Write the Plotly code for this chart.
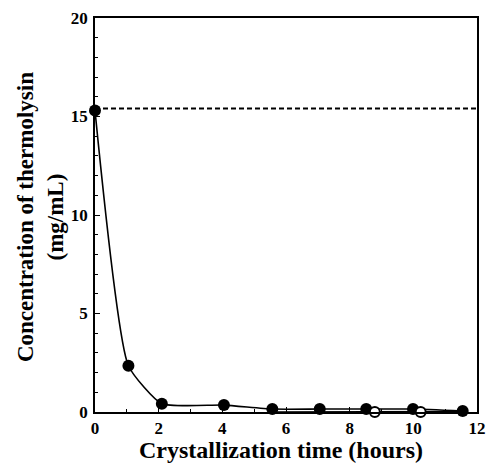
import plotly.graph_objects as go

# Thermolysin remaining in solution during crystallization
time_filled = [0.0, 1.05, 2.1, 4.05, 5.57, 7.06, 8.52, 9.99, 11.55]
conc_filled = [15.3, 2.35, 0.42, 0.35, 0.15, 0.15, 0.15, 0.15, 0.05]

time_open = [5.57, 7.06, 8.79, 10.23, 11.55]
conc_open = [0.0, 0.0, 0.0, 0.0, 0.02]
# open circles that are not hidden under a filled circle
open_visible = [0, 0, 1, 1, 0]

initial_conc = 15.4
x_ticks = [0, 2, 4, 6, 8, 10, 12]
y_ticks = [0, 5, 10, 15, 20]

serif = "Liberation Serif, Times New Roman, serif"

fig = go.Figure()

fig.add_trace(go.Scatter(
    x=[0, 12], y=[initial_conc, initial_conc], mode="lines",
    line=dict(color="black", width=2, dash="5px,3px"), showlegend=False,
    cliponaxis=False,
))

# connecting line of the open series, underneath everything else
fig.add_trace(go.Scatter(
    x=time_open, y=conc_open, mode="lines",
    line=dict(color="black", width=1.5),
    showlegend=False, cliponaxis=False,
))

# filled circles with the smoothed curve
fig.add_trace(go.Scatter(
    x=time_filled, y=conc_filled, mode="lines+markers",
    line=dict(color="black", width=1.6, shape="spline", smoothing=0.5),
    marker=dict(symbol="circle", size=12, color="black"),
    showlegend=False, cliponaxis=False,
))

# open circles
fig.add_trace(go.Scatter(
    x=time_open, y=conc_open, mode="markers",
    marker=dict(symbol="circle", size=10, color="white", opacity=open_visible,
                line=dict(color="black", width=2)),
    showlegend=False, cliponaxis=False,
))

axis_common = dict(
    showline=True, linecolor="black", linewidth=1.8, mirror=True,
    ticks="inside", ticklen=5, tickwidth=1.2, tickcolor="black",
    showgrid=False, zeroline=False,
    tickfont=dict(family=serif, size=17, color="black", weight="bold"),
)

fig.update_xaxes(range=[0, 12], tickvals=x_ticks,
                 minor=dict(dtick=1, ticks="inside", ticklen=3, tickcolor="black"),
                 **axis_common)
fig.update_yaxes(range=[0, 20], tickvals=y_ticks, ticklabelstandoff=2,
                 minor=dict(dtick=1, ticks="inside", ticklen=3, tickcolor="black"),
                 **axis_common)

fig.add_annotation(
    text="Concentration of thermolysin<br>(mg/mL)",
    xref="paper", yref="paper", x=-0.141, y=0.495,
    xanchor="center", yanchor="middle", textangle=-90, showarrow=False,
    font=dict(family=serif, size=23, color="black", weight="bold"),
)
fig.add_annotation(
    text="Crystallization time (hours)",
    xref="paper", yref="paper", x=0.486, y=-0.097,
    xanchor="center", yanchor="middle", showarrow=False,
    font=dict(family=serif, size=24, color="black", weight="bold"),
)

fig.update_layout(
    width=493, height=464,
    margin=dict(l=95, r=7, t=18, b=51.5),
    plot_bgcolor="white", paper_bgcolor="white",
)

fig.write_html("out.html")
